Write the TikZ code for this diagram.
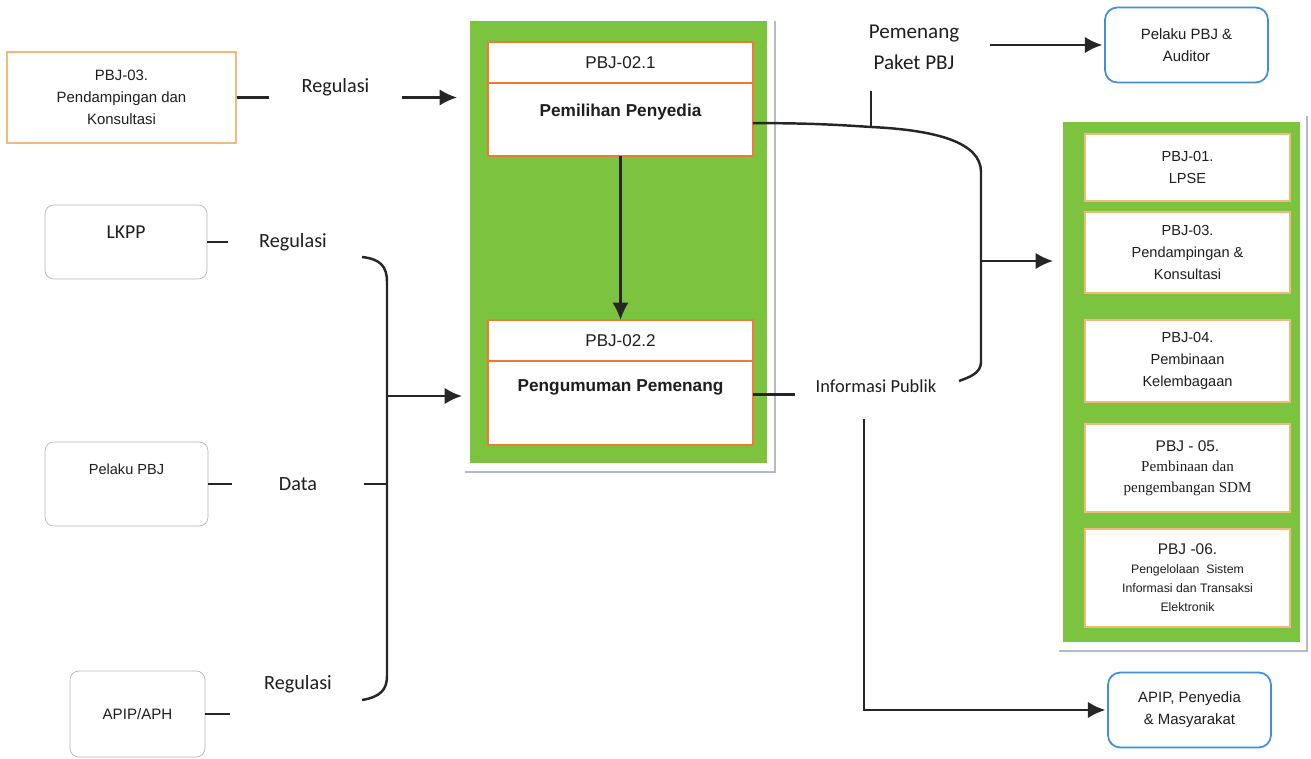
\documentclass[tikz,border=0pt]{standalone}
\usepackage{fontspec}
\setmainfont{Liberation Sans}
\newfontfamily\labelfont{Carlito}
\newfontfamily\bookfont{Liberation Serif}
\usetikzlibrary{arrows.meta, positioning, calc}
\definecolor{LeafGreen}{HTML}{7CC43F}
\definecolor{FlameOrange}{HTML}{EE7B33}
\definecolor{PaleOrange}{HTML}{F5B87C}
\definecolor{SkyBlue}{HTML}{3F8FDA}
\definecolor{FrameGray}{HTML}{B3B5BE}
\definecolor{ShadeGray}{HTML}{B5BACB}
\definecolor{InkGray}{HTML}{1E1E1E}
\tikzset{
  srcbox/.style={draw=FrameGray, rounded corners=5pt, fill=white, align=center, text=InkGray, inner sep=0pt, font=\fontsize{8.3}{12}\selectfont},
  unitbox/.style={draw=PaleOrange, thick, fill=white, align=center, text=InkGray, inner sep=0pt, minimum width=4.1cm, font=\fontsize{8.3}{12.6}\selectfont},
  headbox/.style={draw=FlameOrange, line width=1.3pt, fill=white, text=InkGray, outer sep=0pt, minimum width=5.3cm, minimum height=0.82cm, font=\fontsize{9.7}{11}\selectfont},
  bodybox/.style={draw=FlameOrange, line width=1.3pt, fill=white, text=InkGray, outer sep=0pt, inner sep=0pt, minimum width=5.3cm, font=\bfseries\fontsize{9.8}{11}\selectfont},
  userbox/.style={draw=SkyBlue, line width=1pt, rounded corners=7pt, fill=white, align=center, text=InkGray, minimum width=3.26cm, minimum height=1.5cm, font=\fontsize{8.5}{12.5}\selectfont},
  flowlabel/.style={text=InkGray, align=center, inner sep=0pt, minimum height=0.6cm, font=\labelfont\fontsize{11.5}{14}\selectfont},
  panel/.style={fill=LeafGreen, inner sep=0pt, outer sep=0pt},
  panelshadow/.style={draw=ShadeGray, line width=1pt},
  arrow/.style={-{Latex[length=3.5mm, width=3.3mm]}, line width=1.4pt, draw=black!85},
  link/.style={line width=1.4pt, draw=black!85}
}

\begin{document}
\begin{tikzpicture}[x=0.02cm, y=-0.02cm, node distance=0pt]
\useasboundingbox (0,0) rectangle (1311,759);

% panel proses pemilihan
\node[panel, minimum width=5.94cm, minimum height=8.84cm] (stage) at (618.5,242) {};
\draw[panelshadow] ([shift={(8,0)}]stage.north east) -- ([shift={(8,9)}]stage.south east) -- ([shift={(-5,9)}]stage.south west);
\node[headbox] (selHead) at (620.5,62.5) {PBJ-02.1};
\node[bodybox, below=of selHead, minimum height=1.46cm, text depth=11pt] (selBody) {Pemilihan Penyedia};
\node[headbox] (annHead) at (620.5,340.5) {PBJ-02.2};
\node[bodybox, below=of annHead, minimum height=1.68cm, text depth=20pt] (annBody) {Pengumuman Pemenang};
\draw[arrow] (selBody) -- (annHead);

% panel unit di kanan
\node[panel, minimum width=4.74cm, minimum height=10.4cm] (services) at (1181.5,382) {};
\draw[panelshadow] ([shift={(7,-6)}]services.north east) -- ([shift={(7,9)}]services.south east) -- ([shift={(-4,9)}]services.south west);
\node[unitbox, minimum height=1.34cm] (lpse) at (1187.5,167.5) {PBJ-01.\\LPSE};
\node[unitbox, minimum height=1.62cm] (pendKanan) at (1187.5,252.5) {PBJ-03.\\Pendampingan \&\\Konsultasi};
\node[unitbox, minimum height=1.64cm] (lembaga) at (1187.5,361) {PBJ-04.\\Pembinaan\\Kelembagaan};
\node[unitbox, minimum height=1.76cm, font=\fontsize{8.8}{11.8}\selectfont] (sdm) at (1187.5,468) {PBJ - 05.\\{\bookfont\fontsize{8.6}{11.8}\selectfont Pembinaan dan}\\{\bookfont\fontsize{8.6}{11.8}\selectfont pengembangan SDM}};
\node[unitbox, minimum height=1.96cm, font=\fontsize{8.8}{10.8}\selectfont] (sistem) at (1187.5,578) {PBJ -06.\\{\fontsize{7}{10.8}\selectfont Pengelolaan\ \ Sistem}\\{\fontsize{7}{10.8}\selectfont Informasi dan Transaksi}\\{\fontsize{7}{10.8}\selectfont Elektronik}};

% sumber di kiri
\node[unitbox, line width=0.6pt, minimum width=4.58cm, minimum height=1.82cm, font=\fontsize{8.5}{12.7}\selectfont] (pendKiri) at (121.5,97.5) {PBJ-03.\\Pendampingan dan\\Konsultasi};
\node[flowlabel, minimum width=2.66cm] (reg1) at (335.5,87) {Regulasi};
\draw[link] (pendKiri.east) -- (pendKiri.east -| reg1.west);
\draw[arrow, shorten >=0.26cm] (reg1.east |- pendKiri.east) -- (pendKiri.east -| stage.west);

\node[srcbox, minimum width=3.24cm, minimum height=1.48cm, text depth=11pt, font=\labelfont\fontsize{11.2}{13}\selectfont] (lkpp) at (126,242) {LKPP};
\node[flowlabel, minimum width=2.6cm] (reg2) at (293,242) {Regulasi};
\draw[link] (lkpp.east) -- (reg2.west);

\node[srcbox, minimum width=3.26cm, minimum height=1.68cm, text depth=17pt] (pelaku) at (126.5,484) {Pelaku PBJ};
\node[flowlabel, minimum width=2.64cm] (data) at (298,484) {Data};
\draw[link] (pelaku.east) -- (data.west);

\node[srcbox, minimum width=2.7cm, minimum height=1.72cm, font=\fontsize{8.6}{12}\selectfont] (apip) at (137.5,714) {APIP/APH};
\node[flowlabel, minimum width=2.72cm] (reg3) at (298,684) {Regulasi};
\draw[link] (apip.east) -- (apip.east -| reg3.west);

% kurung kiri
\coordinate (brTop) at (362,257);
\coordinate (brMid) at (387,396);
\coordinate (brEnd) at (362,700);
\draw[link] (brTop) .. controls (380,259) and (387,266) .. (387,282) -- (387,676) .. controls (387,690) and (380,697) .. (brEnd);
\draw[link] (data.east) -- (data.east -| brMid);
\draw[arrow, shorten >=0.16cm] (brMid) -- (brMid -| stage.west);

% keluaran
\node[flowlabel, font=\labelfont\fontsize{12}{17.6}\selectfont, minimum width=3.04cm] (winner) at (914,47) {Pemenang\\Paket PBJ};
\node[userbox] (auditor) at (1186.5,45) {Pelaku PBJ \&\\Auditor};
\draw[arrow, shorten >=1pt] (winner.east |- auditor.west) -- (auditor.west);

\coordinate (tick) at (871,127);
\draw[link] ($(selBody.north east)!0.55!(selBody.south east)$) .. controls (810,123) and (840,125) .. (tick) .. controls (935,130) and (981,142) .. (981,172) -- (981,362) .. controls (981,373) and (970,377) .. (959,381);
\draw[link] (tick) -- ++(0,-36);
\coordinate (brRight) at (981,261);
\draw[arrow, shorten >=0.2cm] (brRight) -- (brRight -| services.west);

\node[flowlabel, font=\labelfont\fontsize{10.5}{12}\selectfont, minimum width=3.24cm] (info) at (876,386) {Informasi Publik};
\coordinate (infoTap) at ($(annBody.north east)!0.4!(annBody.south east)$);
\draw[link] (infoTap) -- (infoTap -| info.west);

\coordinate (pubDrop) at (864,419);
\node[userbox] (public) at (1189.5,710) {APIP, Penyedia\\\& Masyarakat};
\draw[arrow, shorten >=1pt] (pubDrop) |- (public.west);
\end{tikzpicture}
\end{document}
